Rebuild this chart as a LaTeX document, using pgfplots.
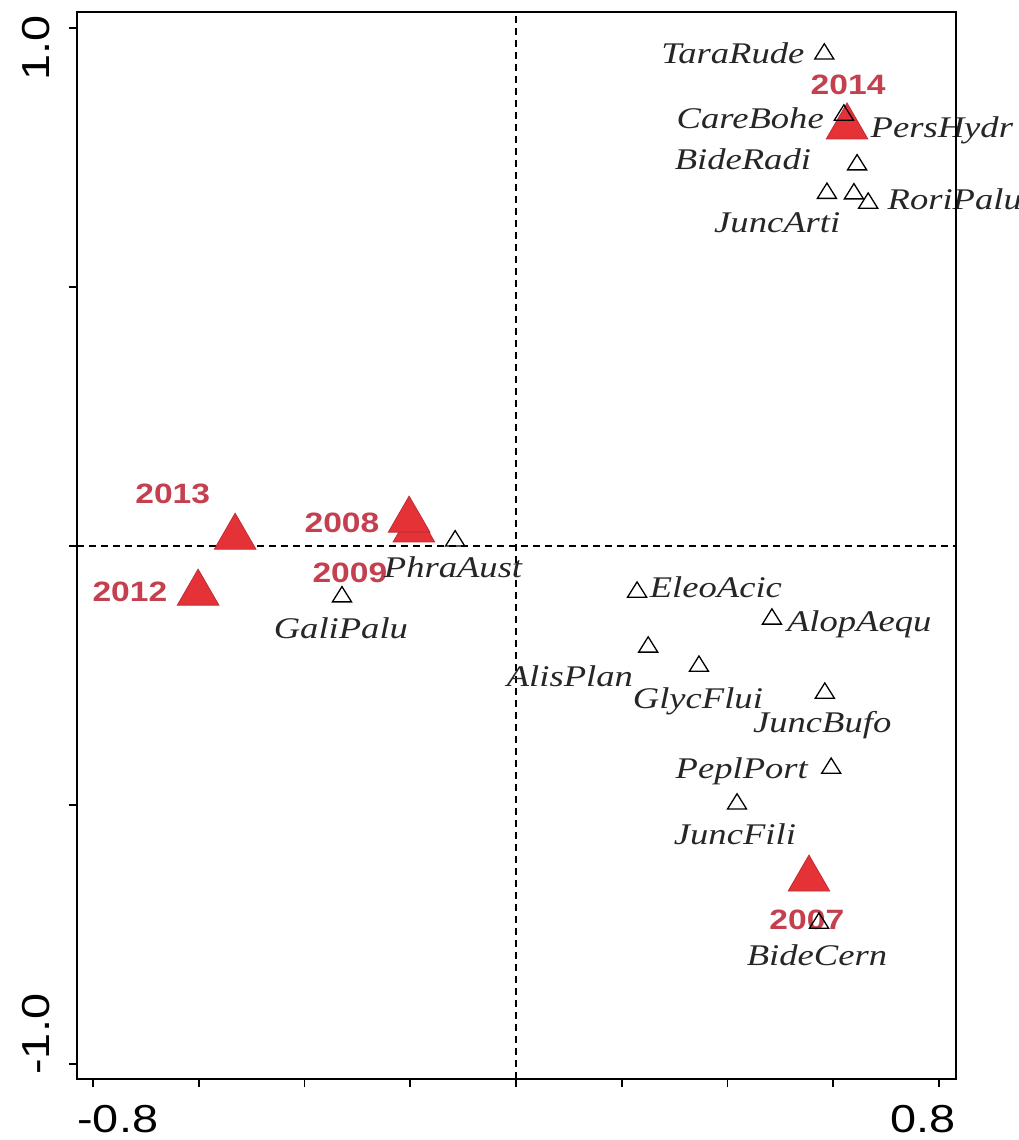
\documentclass[border=0pt]{standalone}
\usepackage{fontspec}
\setmainfont{Liberation Serif}
\newfontfamily\labsans{Liberation Sans}
\usepackage{graphicx}
\usepackage{pgfplots}
\pgfplotsset{compat=1.18}

\definecolor{yearfill}{RGB}{228,50,55}
\definecolor{yearedge}{RGB}{190,45,55}
\definecolor{yeartext}{RGB}{196,64,78}

% species names, year names and tick numbers (slightly widened faces)
\newcommand{\spname}[1]{\scalebox{1.22}[1]{\fontsize{15}{16}\selectfont\itshape #1}}
\newcommand{\yr}[1]{\scalebox{1.2}[1]{\fontsize{14}{15}\selectfont\labsans\bfseries #1}}
\newcommand{\tk}[1]{\scalebox{1.2}[1]{\fontsize{19.5}{20}\selectfont\labsans #1}}

\begin{document}
\begin{tikzpicture}
\begin{axis}[
  scale only axis,
  width=439.5pt, height=533.5pt,
  xmin=-0.830, xmax=0.832,
  ymin=-1.029, ymax=1.031,
  xtick={-0.8,-0.6,-0.4,-0.2,0,0.2,0.4,0.6,0.8},
  ytick={-1,-0.5,0,0.5,1},
  xticklabels={}, yticklabels={},
  tick align=outside, tick pos=left,
  major tick length=4pt,
  tick style={black, line width=0.9pt},
  axis line style={black, line width=1pt},
  axis on top,
  clip=false,
]
% reference lines through the origin
\draw[black, line width=0.75pt, dash pattern=on 3.5pt off 2.5pt]
  (axis cs:0,-1.029) -- (axis cs:0,1.031);
\draw[black, line width=0.75pt, dash pattern=on 3.5pt off 2.5pt]
  (axis cs:-0.830,0) -- (axis cs:0.832,0);

% sampling years
\addplot[only marks, mark=triangle*, mark size=12pt,
  mark options={fill=yearfill, draw=yearedge, line width=0.4pt}]
coordinates {
  (-0.193, 0.031)  % 2009
  (-0.202, 0.050)  % 2008
  (0.554, -0.643)  % 2007
  (-0.601, -0.091) % 2012
  (-0.531, 0.017)  % 2013
  (0.626, 0.809)   % 2014
};

\begin{scope}[every node/.style={inner sep=0pt, text=yeartext, anchor=base}]
\node at (axis cs:-0.649, 0.083) {\yr{2013}};
\node at (axis cs:-0.730,-0.108) {\yr{2012}};
\node at (axis cs:-0.329, 0.027) {\yr{2008}};
\node at (axis cs:-0.314,-0.071) {\yr{2009}};
\node at (axis cs:0.628, 0.871) {\yr{2014}};
\node at (axis cs:0.550,-0.741) {\yr{2007}};
\end{scope}

% species scores
\addplot[only marks, mark=triangle, mark size=5.1pt,
  mark options={xscale=1.08, draw=black, line width=0.65pt, fill=none}]
coordinates {
  (0.583, 0.950)   % TaraRude
  (0.620, 0.832)   % CareBohe
  (0.645, 0.736)   % BideRadi
  (0.588, 0.681)   % JuncArti
  (0.639, 0.680)   % PersHydr
  (0.666, 0.662)   % RoriPalu
  (-0.115, 0.010)  % PhraAust
  (-0.329,-0.098)  % GaliPalu
  (0.229,-0.089)   % EleoAcic
  (0.484,-0.141)   % AlopAequ
  (0.250,-0.195)   % AlisPlan
  (0.346,-0.232)   % GlycFlui
  (0.584,-0.284)   % JuncBufo
  (0.596,-0.429)   % PeplPort
  (0.418,-0.498)   % JuncFili
  (0.573,-0.728)   % BideCern
};

\begin{scope}[every node/.style={inner sep=0pt, text=black!85, anchor=base}]
\node at (axis cs:0.410, 0.932) {\spname{TaraRude}};
\node at (axis cs:0.443, 0.807) {\spname{CareBohe}};
\node[anchor=base west] at (axis cs:0.670, 0.788) {\spname{PersHydr}};
\node at (axis cs:0.429, 0.726) {\spname{BideRadi}};
\node[anchor=base west] at (axis cs:0.702, 0.649) {\spname{RoriPalu}};
\node at (axis cs:0.494, 0.606) {\spname{JuncArti}};
\node at (axis cs:-0.119,-0.060) {\spname{PhraAust}};
\node at (axis cs:-0.331,-0.178) {\spname{GaliPalu}};
\node at (axis cs:0.378,-0.100) {\spname{EleoAcic}};
\node at (axis cs:0.649,-0.166) {\spname{AlopAequ}};
\node at (axis cs:0.102,-0.272) {\spname{AlisPlan}};
\node at (axis cs:0.344,-0.313) {\spname{GlycFlui}};
\node at (axis cs:0.579,-0.361) {\spname{JuncBufo}};
\node at (axis cs:0.427,-0.448) {\spname{PeplPort}};
\node at (axis cs:0.414,-0.577) {\spname{JuncFili}};
\node at (axis cs:0.569,-0.809) {\spname{BideCern}};
\end{scope}
\end{axis}

% end-point tick numbers, flush with the frame
\begin{scope}[every node/.style={inner sep=0pt}]
\node[anchor=north west] at ([yshift=-13pt]current axis.south west) {\tk{-0.8}};
\node[anchor=north east] at ([yshift=-13pt]current axis.south east) {\tk{0.8}};
\node[rotate=90, anchor=south east] at ([xshift=-13.5pt,yshift=-1.5pt]current axis.north west) {\tk{1.0}};
\node[rotate=90, anchor=south west] at ([xshift=-13.5pt,yshift=2pt]current axis.south west) {\tk{-1.0}};
\end{scope}

\pgfresetboundingbox
\path[use as bounding box]
  ([xshift=-38.5pt,yshift=-30.5pt]current axis.south west)
  rectangle ([xshift=31.5pt,yshift=6pt]current axis.north east);
\end{tikzpicture}
\end{document}
